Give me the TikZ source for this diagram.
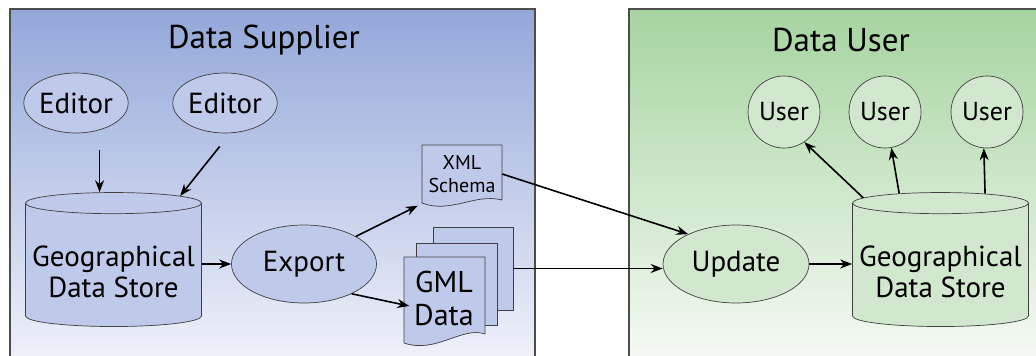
\documentclass[tikz,border=0pt]{standalone}
\usepackage{fontspec}
\setmainfont{PT Sans}
\usetikzlibrary{shapes.geometric}
\usetikzlibrary{arrows.meta}

\definecolor{supplytop}{HTML}{93A7D9}
\definecolor{supplybot}{HTML}{F0F2FA}
\definecolor{usertop}{HTML}{A6D4A0}
\definecolor{userbot}{HTML}{F6FAF5}
\definecolor{bluefill}{HTML}{BFC9E9}
\definecolor{greenfill}{HTML}{D2E8CE}

\tikzset{
  panel/.style={draw=black!70,line width=1.5pt},
  title/.style={font=\fontsize{33}{36}\selectfont},
  proc/.style={ellipse,draw=black!75,line width=0.7pt,font=\fontsize{29}{32}\selectfont,inner sep=0pt},
  store/.style={cylinder,shape border rotate=90,draw=black!75,line width=0.7pt,
    minimum width=176pt,minimum height=134pt,shape aspect=0.13,
    align=center,font=\fontsize{29}{31}\selectfont,inner sep=0pt},
  usr/.style={circle,draw=black!75,line width=0.7pt,fill=greenfill,minimum size=72pt,
    inner sep=0pt,font=\fontsize{26}{28}\selectfont},
  sheet/.style={draw=black!75,line width=0.7pt,fill=bluefill},
  doctext/.style={align=center,inner sep=0pt},
  flow/.style={-{Stealth[length=12pt,width=9pt]},line width=1.6pt}
}

\begin{document}
\begin{tikzpicture}[x=1pt,y=-1pt]
\useasboundingbox (0,0) rectangle (1036,356);

% panels
\path[panel,top color=supplytop,bottom color=supplybot] (10,9) rectangle (535,362);
\path[panel,top color=usertop,bottom color=userbot] (629,9) rectangle (1042,362);
\node[title] (suptitle) at (264,40) {Data Supplier};
\node[title] (usetitle) at (841,40) {Data User};

% supplier side
\node[proc,fill=bluefill,minimum width=102pt,minimum height=60pt] (ed1) at (76,103) {Editor};
\node[proc,fill=bluefill,minimum width=104pt,minimum height=60pt] (ed2) at (225,103) {Editor};
\node[store,fill=bluefill] (store1) at (113.5,265) {\rule{0pt}{34pt}Geographical\\Data Store};
\node[proc,fill=bluefill,minimum width=145pt,minimum height=78pt] (export) at (304,264) {Export};

% xml schema document
\filldraw[sheet] (422,145) -- (502,145) -- (502,200) .. controls (475,193) and (450,214) .. (422,203) -- cycle;
\node[doctext,minimum width=80pt,minimum height=55pt,font=\fontsize{20}{23}\selectfont] (xml) at (462,174) {XML\\Schema};

% gml data, three sheets
\filldraw[sheet] (433,227) rectangle (513,310);
\filldraw[sheet] (416,243) rectangle (497,325);
\node[minimum width=80pt,minimum height=83pt,inner sep=0pt] (gmlC) at (473,268.5) {};
\node[minimum width=81pt,minimum height=82pt,inner sep=0pt] (gmlB) at (456.5,284) {};
\filldraw[sheet] (404,257) -- (485,257) -- (485,334) .. controls (462,326) and (436,354) .. (404,343) -- cycle;
\node[doctext,minimum width=81pt,minimum height=80pt,font=\fontsize{30}{33}\selectfont] (gmlA) at (444,298) {GML\\Data};

% user side
\node[proc,fill=greenfill,minimum width=146pt,minimum height=78pt] (update) at (736,264) {Update};
\node[store,fill=greenfill] (store2) at (940.5,265) {\rule{0pt}{34pt}Geographical\\Data Store};
\node[usr] (u1) at (784,112) {User};
\node[usr] (u2) at (885,112) {User};
\node[usr] (u3) at (987,112) {User};

% connectors
\draw[flow,shorten <=20pt] (ed1.-49) -- (ed1.-49 |- store1.north);
\draw[flow,shorten <=17pt] (ed2.-80) -- (store1.46);
\draw[flow] (store1.east |- export.west) -- (export.west);
\draw[flow] (export.28) -- ([xshift=-4pt,yshift=-4pt]xml.south west);
\draw[flow] (export.-32) -- ([xshift=6pt,yshift=-8pt]gmlA.west);
\draw[flow] (xml.east) -- (update.148);
\draw[flow] (gmlC.east) -- (gmlC.east -| update.west);
\draw[flow] (update.east) -- (store2.west |- update.east);
\draw[flow] (store2.139) -- (u1.-56);
\draw[flow] (store2.120) -- (u2.-80);
\draw[flow] (store2.58) -- (u3.-95);

\end{tikzpicture}
\end{document}
